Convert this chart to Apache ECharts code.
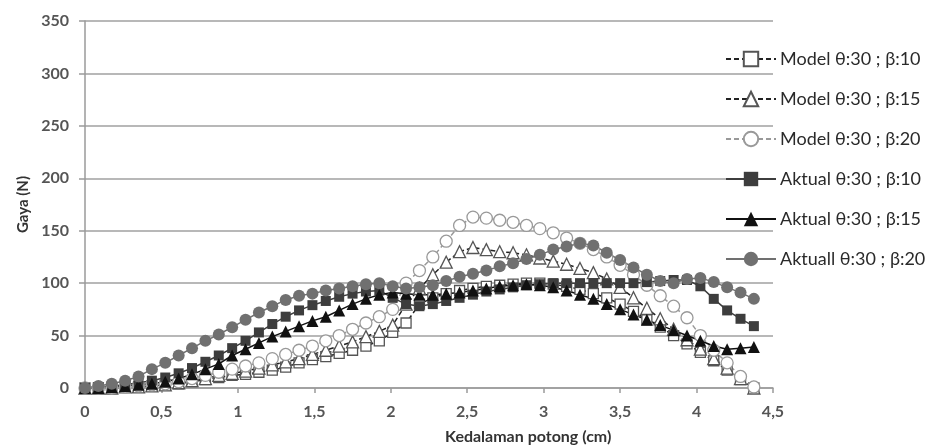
<!DOCTYPE html>
<html>
<head>
<meta charset="utf-8">
<script src="https://cdn.jsdelivr.net/npm/echarts@6/dist/echarts.min.js"></script>
<style>
html,body{margin:0;padding:0;background:#fff;}
#chart{width:928px;height:448px;}
</style>
</head>
<body>
<div id="chart"></div>
<script>
// Depth of cut (cm)
const xValues = [0, 0.0875, 0.175, 0.2625, 0.35, 0.4375, 0.525, 0.6125, 0.7, 0.7875,
  0.875, 0.9625, 1.05, 1.1375, 1.225, 1.3125, 1.4, 1.4875, 1.575, 1.6625,
  1.75, 1.8375, 1.925, 2.0125, 2.1, 2.1875, 2.275, 2.3625, 2.45, 2.5375,
  2.625, 2.7125, 2.8, 2.8875, 2.975, 3.0625, 3.15, 3.2375, 3.325, 3.4125,
  3.5, 3.5875, 3.675, 3.7625, 3.85, 3.9375, 4.025, 4.1125, 4.2, 4.2875, 4.375];

const modelB10 = [0, 0, 0, 1, 1, 2, 3, 4, 6, 8,
  10, 12, 13, 15, 17, 20, 24, 27, 30, 33,
  36, 40, 45, 53, 62, 80, 86, 90, 93, 95,
  97, 98, 99, 100, 100, 99, 97, 94, 90, 86,
  80, 73, 65, 58, 50, 42, 34, 26, 17, 8, 0];

const modelB15 = [0, 0, 0, 1, 1, 2, 3, 5, 7, 9,
  12, 14, 16, 19, 22, 25, 28, 32, 36, 40,
  44, 49, 54, 60, 80, 95, 108, 120, 130, 134,
  132, 130, 129, 127, 124, 121, 118, 114, 110, 104,
  96, 86, 76, 66, 56, 46, 37, 28, 19, 9, 0];

const modelB20 = [0, 0, 0, 1, 2, 3, 4, 6, 9, 12,
  15, 18, 21, 24, 28, 32, 36, 40, 45, 50,
  56, 62, 68, 75, 100, 112, 125, 140, 155, 163,
  162, 160, 158, 155, 152, 148, 143, 138, 132, 125,
  117, 108, 98, 88, 78, 67, 50, 36, 24, 11, 1];

const aktualB10 = [0, 1, 2, 3, 5, 7, 10, 14, 19, 25,
  31, 38, 45, 53, 61, 68, 74, 79, 83, 87,
  90, 92, 93, 86, 80, 78, 80, 83, 86, 89,
  92, 94, 96, 98, 99, 100, 100, 100, 100, 100,
  100, 100, 101, 102, 103, 103, 97, 85, 74, 66, 59];

const aktualB15 = [0, 0, 1, 2, 3, 4, 6, 9, 13, 18,
  23, 31, 37, 43, 49, 54, 59, 64, 68, 74,
  80, 85, 89, 91, 90, 89, 89, 90, 91, 93,
  95, 97, 98, 99, 98, 96, 93, 89, 85, 80,
  75, 70, 65, 60, 55, 50, 45, 40, 37, 38, 39];

const aktualB20 = [0, 2, 4, 7, 11, 18, 24, 31, 38, 45,
  51, 58, 65, 72, 78, 84, 88, 90, 93, 95,
  97, 99, 100, 97, 95, 96, 98, 102, 106, 109,
  112, 116, 119, 123, 127, 132, 135, 138, 136, 129,
  122, 115, 108, 102, 100, 104, 105, 101, 96, 91, 85];

const seriesNames = ['Model θ:30 ; β:10', 'Model θ:30 ; β:15', 'Model θ:30 ; β:20',
  'Aktual θ:30 ; β:10', 'Aktual θ:30 ; β:15', 'Aktuall θ:30 ; β:20'];

const yTicks = [0, 50, 100, 150, 200, 250, 300, 350];
const xTicks = [0, 0.5, 1, 1.5, 2, 2.5, 3, 3.5, 4, 4.5];
const xTitle = 'Kedalaman potong (cm)';
const yTitle = 'Gaya (N)';

const pairs = arr => xValues.map((x, i) => [x, arr[i]]);

const font = 'Lato, "Open Sans", sans-serif';

function modelSeries(name, arr, symbol, lineColor, markColor, size) {
  return {
    name, type: 'line', data: pairs(arr), symbol, symbolSize: size,
    lineStyle: { color: lineColor, width: 1.5, type: [5, 3] },
    itemStyle: { color: '#ffffff', borderColor: markColor, borderWidth: 1.3 },
    emphasis: { disabled: true }, animation: false
  };
}
function aktualSeries(name, arr, symbol, color, size) {
  return {
    name, type: 'line', data: pairs(arr), symbol, symbolSize: size,
    lineStyle: { color: color, width: 1.5 },
    itemStyle: { color: color, borderColor: color, borderWidth: 0 },
    emphasis: { disabled: true }, animation: false
  };
}

const chart = echarts.init(document.getElementById('chart'), null, { renderer: 'canvas' });
chart.setOption({
  backgroundColor: '#ffffff',
  animation: false,
  grid: { left: 85, right: 155, top: 21, bottom: 60, containLabel: false },
  legend: {
    orient: 'vertical', left: 720, top: 45, itemGap: 22, itemWidth: 50, itemHeight: 18,
    data: seriesNames,
    textStyle: { fontFamily: font, fontSize: 18, color: '#2a2a2a', lineHeight: 18, padding: [0, 0, 0, -1] }
  },
  graphic: [{
    type: 'text', left: 445, top: 429, silent: true,
    style: { text: xTitle, font: 'bold 16px ' + font, fill: '#333' }
  }],
  xAxis: {
    type: 'value', min: xTicks[0], max: xTicks[xTicks.length - 1], interval: 0.5,
    axisLine: { show: true, lineStyle: { color: '#9a9a9a', width: 1.5 } },
    axisTick: { show: true, length: 5, lineStyle: { color: '#9a9a9a', width: 1.5 } },
    axisLabel: { fontFamily: font, fontSize: 16, fontWeight: 'bold', color: '#555', margin: 16,
      formatter: v => String(v).replace('.', ',') },
    splitLine: { show: false }
  },
  yAxis: {
    type: 'value', min: yTicks[0], max: yTicks[yTicks.length - 1], interval: 50,
    name: yTitle, nameLocation: 'middle', nameGap: 54, nameRotate: 90,
    nameTextStyle: { fontFamily: font, fontSize: 15, fontWeight: 'bold', color: '#333' },
    axisLine: { show: true, lineStyle: { color: '#9a9a9a', width: 1.5 } },
    axisTick: { show: true, length: 6, lineStyle: { color: '#9a9a9a', width: 1.5 } },
    axisLabel: { fontFamily: font, fontSize: 16, fontWeight: 'bold', color: '#555', margin: 16 },
    splitLine: { show: true, lineStyle: { color: '#a0a0a0', width: 1.5 } }
  },
  series: [
    modelSeries(seriesNames[0], modelB10, 'rect', '#222', '#555', 10),
    modelSeries(seriesNames[1], modelB15, 'triangle', '#222', '#555', 12),
    modelSeries(seriesNames[2], modelB20, 'circle', '#999', '#999', 12),
    aktualSeries(seriesNames[3], aktualB10, 'rect', '#3d3d3d', 10),
    aktualSeries(seriesNames[4], aktualB15, 'triangle', '#111111', 12),
    aktualSeries(seriesNames[5], aktualB20, 'circle', '#707070', 12)
  ]
});
</script>
</body>
</html>
